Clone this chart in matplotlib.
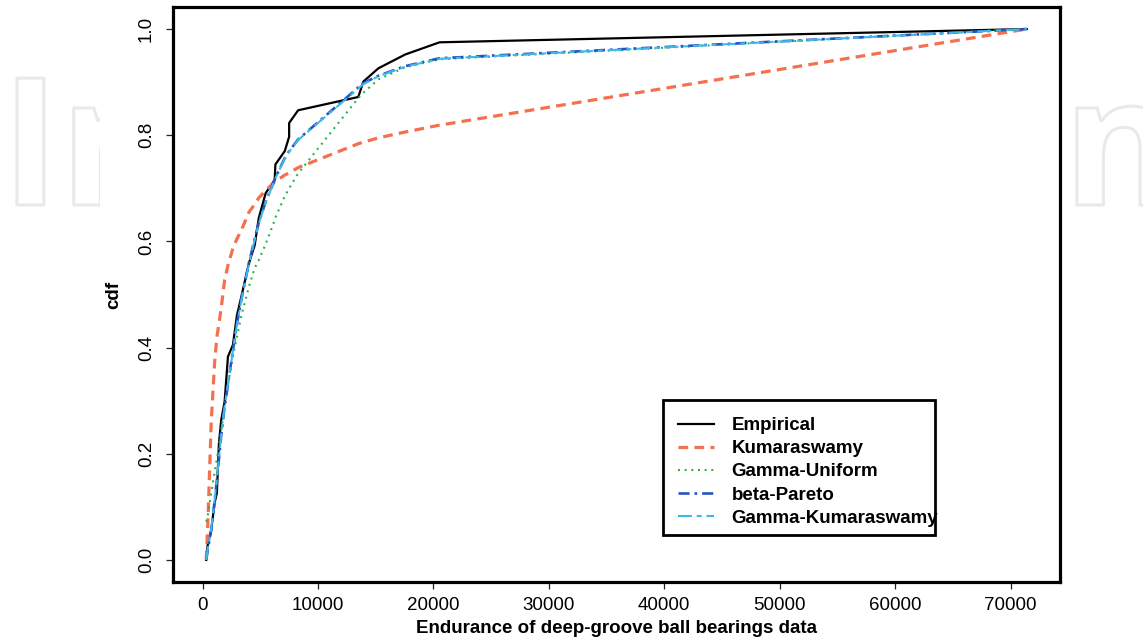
import numpy as np
import matplotlib.pyplot as plt
from matplotlib import patheffects
from matplotlib.patches import Rectangle
from matplotlib.transforms import Bbox

plt.rcParams['font.family'] = ['Liberation Sans', 'DejaVu Sans']
plt.rcParams['lines.scale_dashes'] = False

# sorted data points (endurance) shared by all curves
x_data = [320, 460, 750, 1040, 1240, 1420, 1620, 1910, 2200, 2630, 2980, 3360,
          4020, 4520, 4870, 5470, 6250, 6310, 7120, 7500, 7500, 8280, 13490,
          13930, 15230, 17550, 20530, 71400]

cdf_empirical = [0.0, 0.031, 0.056, 0.107, 0.126, 0.220, 0.264, 0.298, 0.383,
                 0.405, 0.461, 0.496, 0.559, 0.593, 0.644, 0.691, 0.716, 0.745,
                 0.770, 0.797, 0.823, 0.847, 0.872, 0.901, 0.926, 0.952, 0.975, 1.0]
cdf_kumaraswamy = [0.0, 0.07, 0.26, 0.37, 0.42, 0.445, 0.475, 0.527, 0.555,
                   0.587, 0.605, 0.621, 0.655, 0.670, 0.682, 0.696, 0.712, 0.713,
                   0.725, 0.729, 0.729, 0.739, 0.784, 0.787, 0.795, 0.806, 0.819, 1.0]
cdf_gamma_uniform = [0.072, 0.085, 0.125, 0.165, 0.19, 0.215, 0.245, 0.29, 0.33,
                     0.385, 0.42, 0.46, 0.515, 0.55, 0.565, 0.595, 0.64, 0.645,
                     0.685, 0.70, 0.70, 0.728, 0.87, 0.88, 0.905, 0.928, 0.943, 1.0]
cdf_beta_pareto = [0.0, 0.02, 0.056, 0.11, 0.15, 0.19, 0.235, 0.289, 0.33,
                   0.395, 0.445, 0.49, 0.56, 0.605, 0.635, 0.675, 0.716, 0.72,
                   0.757, 0.77, 0.77, 0.792, 0.89, 0.898, 0.912, 0.93, 0.945, 1.0]
cdf_gamma_kum = [0.0, 0.022, 0.058, 0.112, 0.152, 0.192, 0.236, 0.289, 0.331,
                 0.394, 0.444, 0.489, 0.558, 0.603, 0.633, 0.674, 0.715, 0.719,
                 0.756, 0.769, 0.769, 0.791, 0.888, 0.896, 0.911, 0.929, 0.944, 1.0]

x_ticks = [0, 10000, 20000, 30000, 40000, 50000, 60000, 70000]
y_ticks = [0.0, 0.2, 0.4, 0.6, 0.8, 1.0]

W, H = 1143, 639
fig = plt.figure(figsize=(W / 100, H / 100), dpi=100)
ax = fig.add_axes([173 / W, 1 - 582 / H, 887 / W, 575 / H])

# faint publisher watermark behind the plot (left part is clipped before the tick labels)
wm = dict(fontsize=128, fontweight='bold', family='Open Sans', color='none',
          zorder=-1, va='baseline',
          path_effects=[patheffects.Stroke(linewidth=2.2, foreground='#e9e9e9')])
t1 = fig.text(1 / W, 1 - 205 / H, 'In', **wm)
t1.set_clip_box(Bbox.from_extents(0, 0, 100, H))
t2 = fig.text(1063 / W, 1 - 205 / H, 'n', **wm)
t2.set_clip_box(Bbox.from_extents(1062, 0, W, H))

ax.plot(x_data, cdf_empirical, color='black', lw=1.6, label='Empirical')
ax.plot(x_data, cdf_kumaraswamy, color='#f5704f', lw=2.3, dashes=(7, 4.5),
        label='Kumaraswamy')
ax.plot(x_data, cdf_gamma_uniform, color='#1fb34a', lw=1.5, dashes=(1.4, 3.4),
        label='Gamma-Uniform')
ax.plot(x_data, cdf_beta_pareto, color='#2a52c4', lw=1.9, dashes=(8, 3.5, 2, 3.5),
        label='beta-Pareto')
ax.plot(x_data, cdf_gamma_kum, color='#3db8e8', lw=1.5, dashes=(10, 3.5, 3.5, 3.5),
        label='Gamma-Kumaraswamy')

ax.set_xlim(-2560, 74280)
ax.set_ylim(-0.0415, 1.0415)
ax.set_xticks(x_ticks)
ax.set_yticks(y_ticks)
ax.set_xticklabels([str(t) for t in x_ticks])
ax.set_yticklabels(['%.1f' % t for t in y_ticks], rotation=90, va='center')
ax.tick_params(axis='both', direction='out', length=5, width=0.9, labelsize=13.5,
               color='#222222')
ax.tick_params(axis='x', pad=6)
ax.tick_params(axis='y', pad=8)
for s in ax.spines.values():
    s.set_linewidth(2.3)

ax.set_xlabel('Endurance of deep-groove ball bearings data', fontsize=13.5,
              fontweight='bold', labelpad=4)
ax.set_ylabel('cdf', fontsize=13.5, fontweight='bold', labelpad=11)

# R-style legend: fixed box, the longest label runs into the border
ax.add_patch(Rectangle(((663 - 173) / 887, (582 - 535) / 575), 272 / 887, 135 / 575,
                       transform=ax.transAxes, facecolor='white', edgecolor='black',
                       lw=2.0, zorder=4))
leg = ax.legend(loc='upper left', bbox_to_anchor=((663 - 173) / 887, (582 - 402) / 575),
                borderaxespad=0, frameon=False,
                prop={'weight': 'bold', 'size': 13.5}, handlelength=1.9,
                handletextpad=0.95, labelspacing=0.32, borderpad=0.8)
leg.set_zorder(5)

fig.savefig('out.png', dpi=100)
